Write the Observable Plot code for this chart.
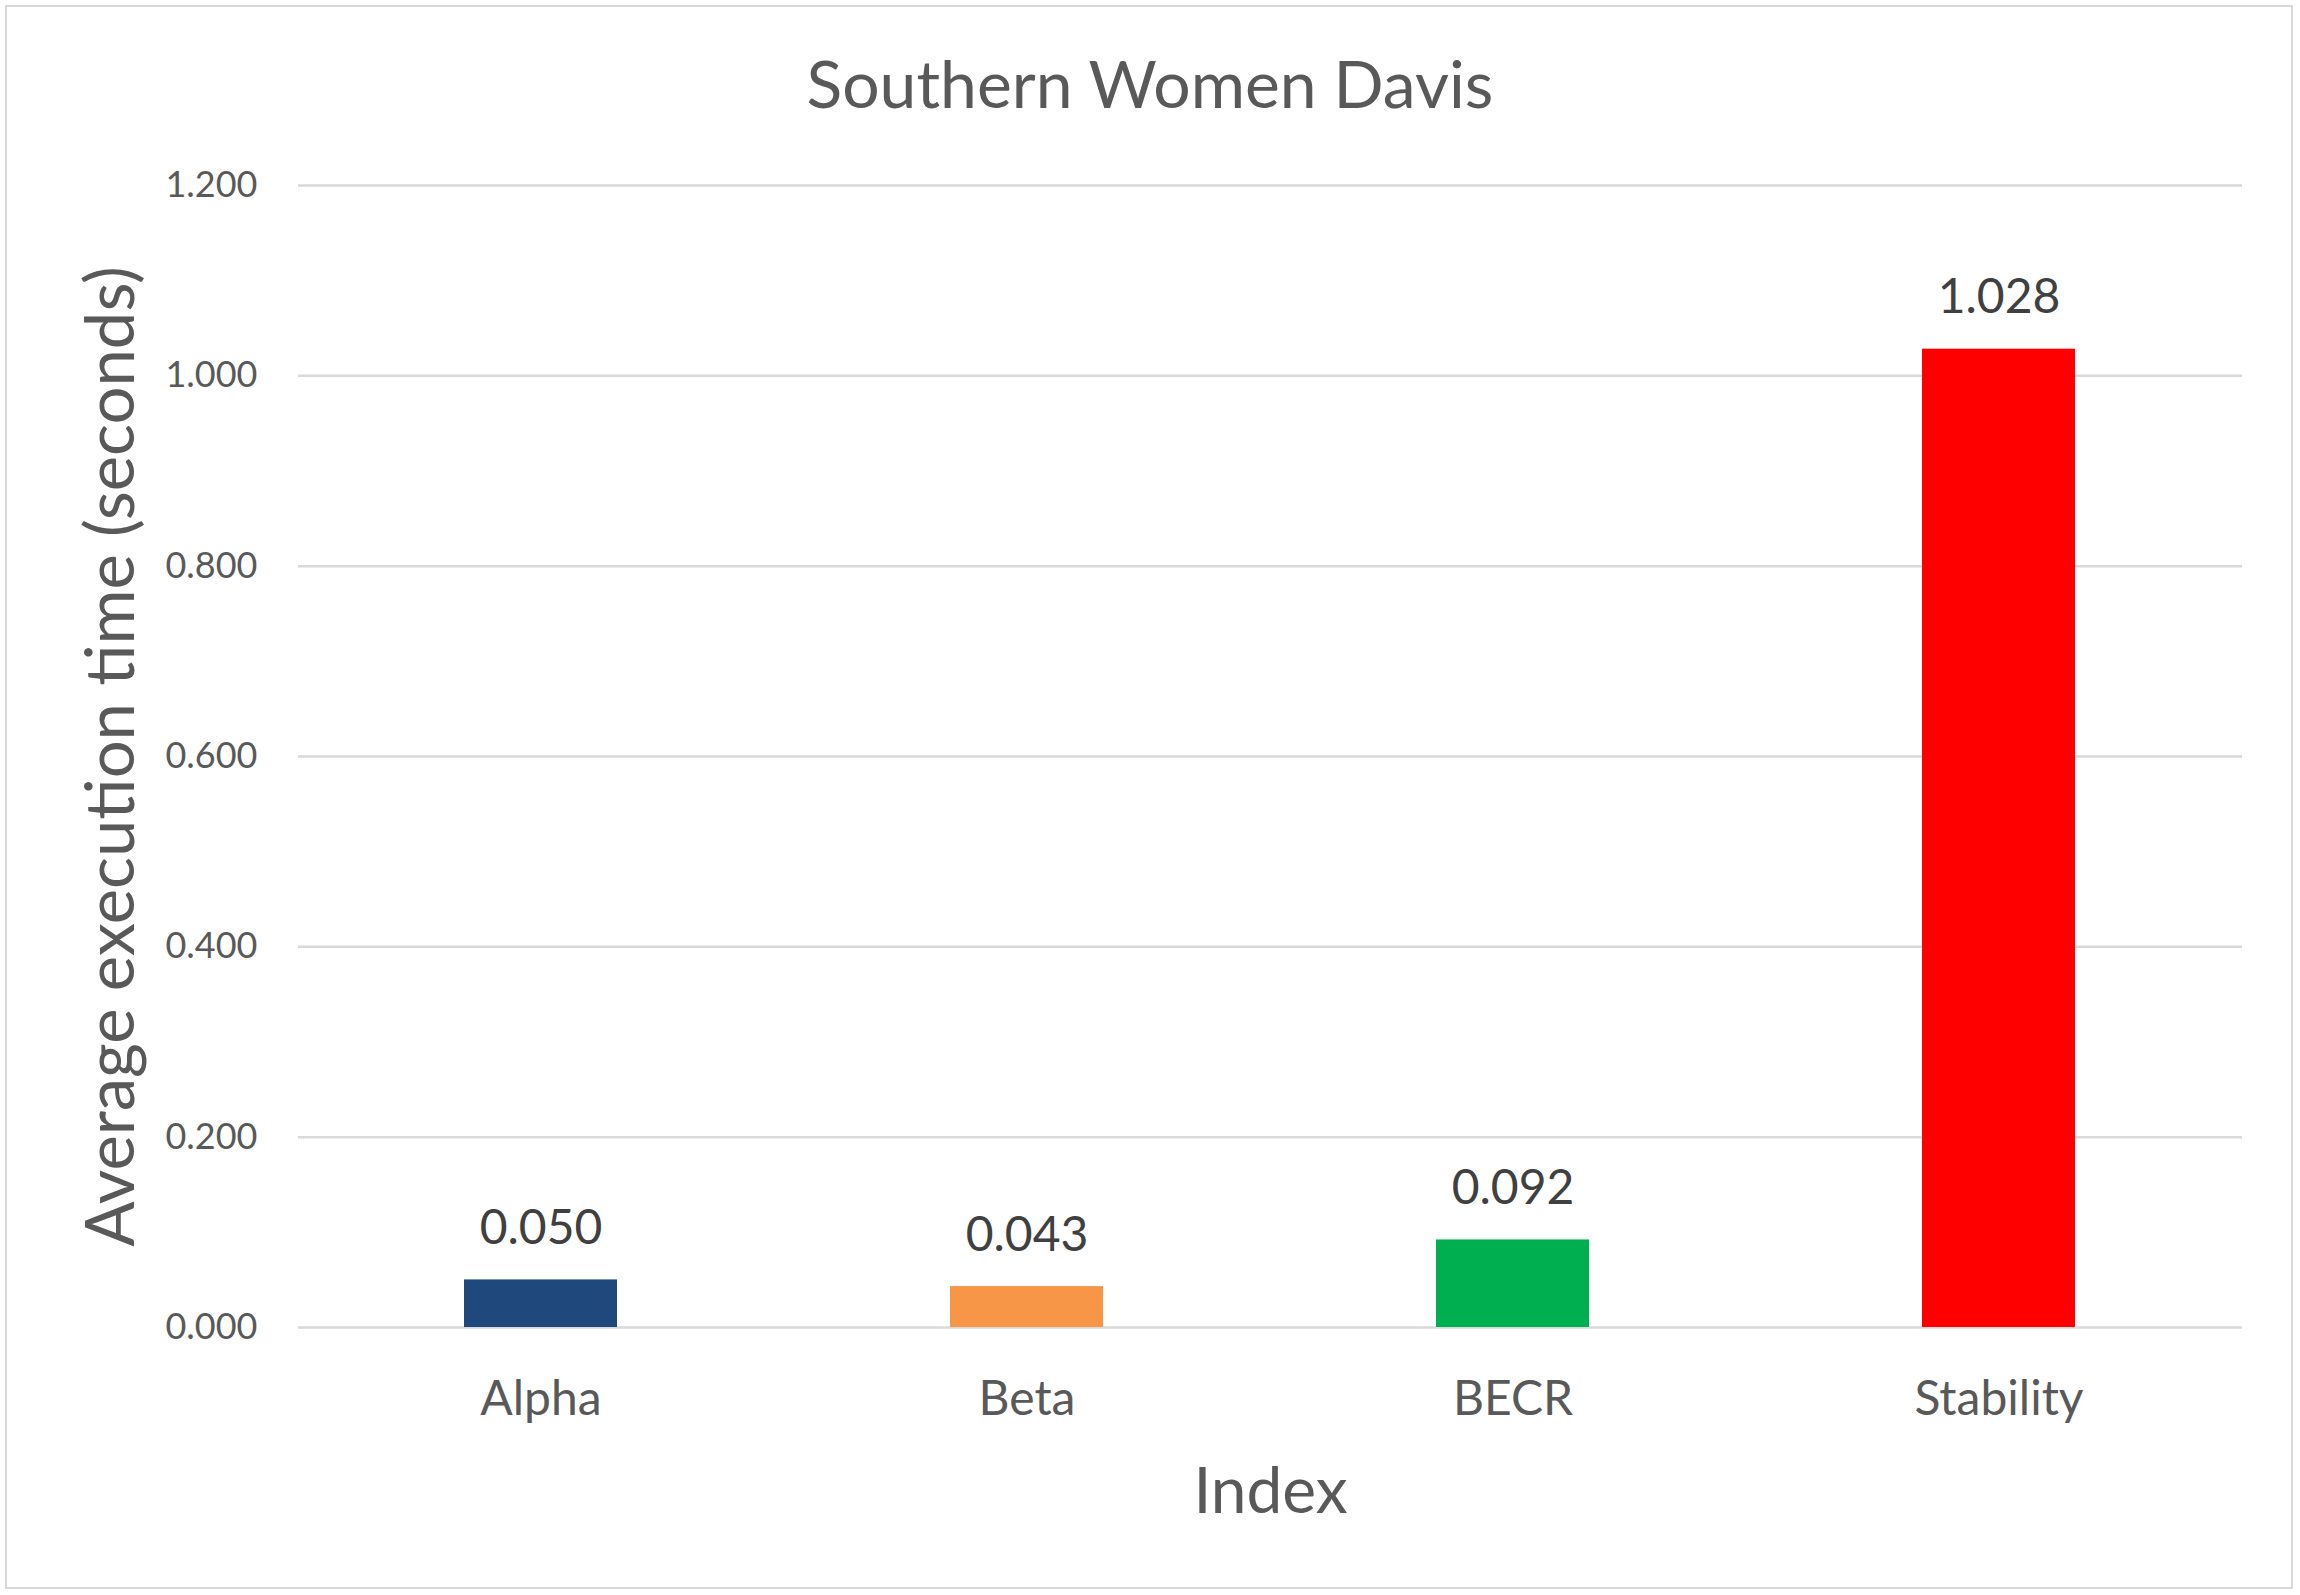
<!DOCTYPE html>
<html>
<head>
<meta charset="utf-8">
<script src="https://cdn.jsdelivr.net/npm/d3@7"></script>
<script src="https://cdn.jsdelivr.net/npm/@observablehq/plot@0.6"></script>
<style>
  html, body { margin: 0; padding: 0; background: #ffffff; }
  #wrap { position: relative; width: 2300px; height: 1595px; overflow: hidden; font-family: Lato, "Open Sans", sans-serif; }
  #title { height: 150px; box-sizing: border-box; padding-top: 50px; line-height: 66px; font-size: 66px; color: #595959; text-align: center; }
  #border { position: absolute; left: 5px; top: 5px; width: 2284px; height: 1580px; border: 2px solid #d9d9d9; pointer-events: none; }
  svg { display: block; }
</style>
</head>
<body>
<div id="wrap">
  <div id="title">Southern Women Davis</div>
  <div id="chart"></div>
  <div id="border"></div>
</div>
<script>
const categories = ["Alpha", "Beta", "BECR", "Stability"];
const values = [0.050, 0.043, 0.092, 1.028];
const barColors = ["#1f497d", "#f79646", "#00b050", "#ff0000"];
const yTicks = [0, 0.2, 0.4, 0.6, 0.8, 1.0, 1.2];
const xTitle = "Index";
const yTitle = "Average execution time (seconds)";

const data = categories.map((c, i) => ({category: c, value: values[i], color: barColors[i]}));

const plot = Plot.plot({
  width: 2300,
  height: 1445,
  marginTop: 35,
  marginBottom: 268,
  marginLeft: 298,
  marginRight: 58,
  style: {fontFamily: "Lato, 'Open Sans', sans-serif", background: "#ffffff", overflow: "visible"},
  x: {type: "band", domain: categories, paddingInner: 0.685, paddingOuter: 0.3425, label: null},
  y: {domain: [0, 1.2], label: null},
  color: {type: "identity"},
  marks: [
    Plot.ruleY(yTicks, {stroke: "#d9d9d9", strokeWidth: 2.5}),
    Plot.barY(data, {x: "category", y: "value", fill: "color"}),
    Plot.text(data, {x: "category", y: "value", text: d => d.value.toFixed(3), lineAnchor: "bottom", dy: -36, fontSize: 48, fill: "#404040"}),
    Plot.axisX({tickSize: 0, tickPadding: 53, fontSize: 48, fill: "#595959", label: null}),
    Plot.axisY({ticks: yTicks, tickSize: 0, tickPadding: 41, fontSize: 36, fill: "#595959", tickFormat: d => d.toFixed(3), label: null}),
    Plot.text([xTitle], {frameAnchor: "bottom", text: d => d, lineAnchor: "middle", dy: 165, fontSize: 64, fill: "#595959"}),
    Plot.text([yTitle], {frameAnchor: "left", text: d => d, rotate: -90, textAnchor: "middle", lineAnchor: "middle", dx: -186, fontSize: 67, fill: "#595959"})
  ]
});
document.getElementById("chart").appendChild(plot);
</script>
</body>
</html>
